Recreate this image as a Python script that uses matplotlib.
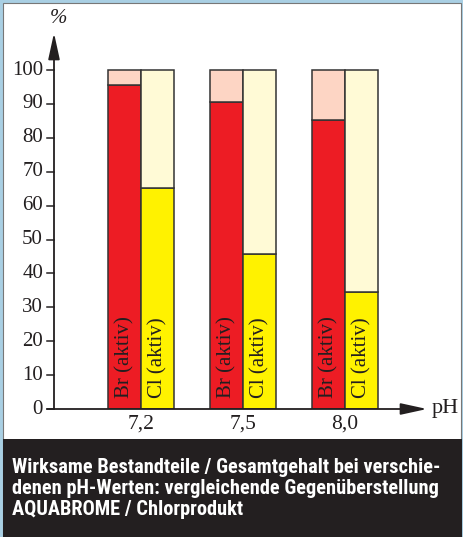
import matplotlib.pyplot as plt
from matplotlib.patches import Rectangle
from matplotlib import font_manager

ph_labels = ['7,2', '7,5', '8,0']
br_active = [95.5, 90.5, 85.2]
cl_active = [65.2, 45.7, 34.5]
y_ticks = [0, 10, 20, 30, 40, 50, 60, 70, 80, 90, 100]
caption_lines = ['Wirksame Bestandteile / Gesamtgehalt bei verschie-',
                 'denen pH-Werten: vergleichende Gegenüberstellung',
                 'AQUABROME / Chlorprodukt']

W, H = 464, 537
fig = plt.figure(figsize=(W / 100, H / 100), dpi=100)
fig.patch.set_facecolor('#a9cfe3')

# white page and dark caption box (figure pixels)
def px_rect(x0, y0, x1, y1, **kw):
    fig.patches.append(Rectangle((x0 / W, 1 - y1 / H), (x1 - x0) / W, (y1 - y0) / H,
                                 transform=fig.transFigure, figure=fig, zorder=-5, **kw))

px_rect(3, 3, 461, 537, facecolor='white', edgecolor='#777777', linewidth=0.8)
px_rect(3, 439, 462, 537, facecolor='#231f20', edgecolor='none')

serif = 'Liberation Serif'
names = {f.name for f in font_manager.fontManager.ttflist}
cap_font = 'Liberation Sans'
for cand in ['Roboto Condensed', 'Liberation Sans Narrow', 'Roboto']:
    if cand in names:
        cap_font = cand
        break

# caption, sized so the first line spans about 428 px
renderer = fig.canvas.get_renderer()
probe = fig.text(0, 0, caption_lines[0], fontsize=15, fontweight='bold', family=[cap_font, 'DejaVu Sans'])
w = probe.get_window_extent(renderer).width
probe.remove()
cap_size = min(15, 15 * 428 / w)
for k, line in enumerate(caption_lines):
    fig.text(12 / W, 1 - (473 + 21 * k) / H, line, color='white', fontsize=cap_size, fontweight='bold',
             family=[cap_font, 'DejaVu Sans'], va='baseline', ha='left')

# chart axes: 0% at y=409 px, 3.39 px per %, group spacing 102 px
ppu = 3.39
gap = 102
ax_left, ax_right = 40, 440
ymax = 112
ax = fig.add_axes([ax_left / W, 1 - 409 / H, (ax_right - ax_left) / W, ymax * ppu / H])
ax.set_xlim((ax_left - 141) / gap, (ax_right - 141) / gap)
ax.set_ylim(0, ymax)
ax.axis('off')

bw = 33 / gap
edge = '#333333'
ink = '#231f20'
for i in range(len(ph_labels)):
    xb = i - bw / 2
    xc = i + bw / 2
    ax.bar(xb, br_active[i], bw, color='#ed1c24', edgecolor=edge, linewidth=1.1)
    ax.bar(xb, 100 - br_active[i], bw, bottom=br_active[i], color='#fdd5c4', edgecolor=edge, linewidth=1.1)
    ax.bar(xc, cl_active[i], bw, color='#fff200', edgecolor=edge, linewidth=1.1)
    ax.bar(xc, 100 - cl_active[i], bw, bottom=cl_active[i], color='#fffad6', edgecolor=edge, linewidth=1.1)
    ax.text(xb, 3.3, 'Br (aktiv)', rotation=90, ha='center', va='bottom', family=serif, fontsize=15, color=ink)
    ax.text(xc, 3.3, 'Cl (aktiv)', rotation=90, ha='center', va='bottom', family=serif, fontsize=15, color=ink)
    ax.text(i, -1.5, ph_labels[i], ha='center', va='top', family=serif, fontsize=15.5, color=ink)

# axes with arrows
yx = (54 - 141) / gap
x_start = (47 - 141) / gap
x_end = (427 - 141) / gap
arrow = dict(arrowstyle='-|>,head_length=1.6,head_width=0.35', color=ink, lw=1.3, shrinkA=0, shrinkB=0)
ax.annotate('', xy=(yx, (409 - 33) / ppu), xytext=(yx, 0), arrowprops=arrow, annotation_clip=False)
ax.annotate('', xy=(x_end, 0), xytext=(x_start, 0), arrowprops=arrow, annotation_clip=False)
tick_l = (47 - 141) / gap
for t in y_ticks:
    ax.plot([tick_l, yx], [t, t], color=ink, lw=1.1, clip_on=False)
    ax.text((43 - 141) / gap, t, str(t), ha='right', va='center', family=serif, fontsize=15, color=ink)

ax.text(yx + 4 / gap, (409 - 18) / ppu, '%', ha='center', va='center', family=serif, fontsize=15,
        style='italic', color=ink)
ax.text((432 - 141) / gap, 0, 'pH', ha='left', va='center', family=serif, fontsize=16, color=ink)

fig.savefig('out.png', dpi=100, facecolor=fig.get_facecolor())
